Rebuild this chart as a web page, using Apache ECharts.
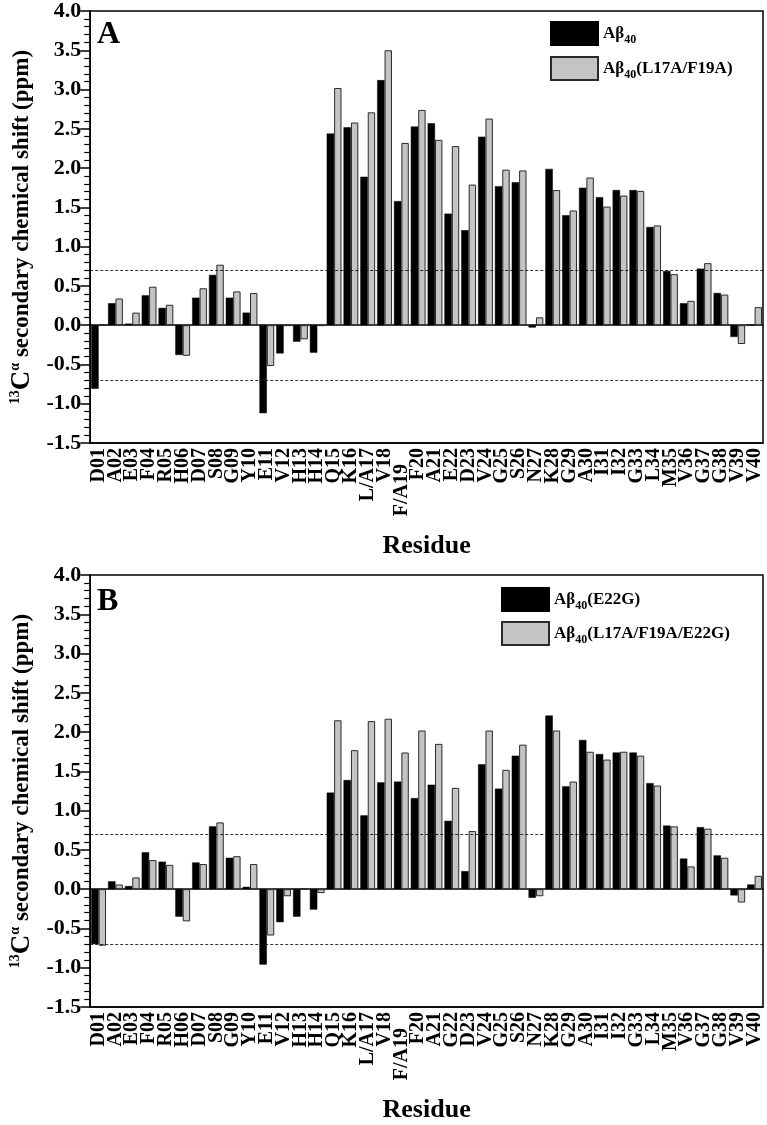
<!DOCTYPE html>
<html>
<head>
<meta charset="utf-8">
<script src="https://cdn.jsdelivr.net/npm/echarts@6/dist/echarts.min.js"></script>
<style>
html,body{margin:0;padding:0;background:#fff;}
#chart{width:767px;height:1125px;}
</style>
</head>
<body>
<div id="chart"></div>
<script>
const residuesA = ['D01','A02','E03','F04','R05','H06','D07','S08','G09','Y10','E11','V12','H13','H14','Q15','K16','L/A17','V18','F/A19','F20','A21','E22','D23','V24','G25','S26','N27','K28','G29','A30','I31','I32','G33','L34','M35','V36','G37','G38','V39','V40'];
const residuesB = ['D01','A02','E03','F04','R05','H06','D07','S08','G09','Y10','E11','V12','H13','H14','Q15','K16','L/A17','V18','F/A19','F20','A21','G22','D23','V24','G25','S26','N27','K28','G29','A30','I31','I32','G33','L34','M35','V36','G37','G38','V39','V40'];

const ab40 = [-0.81,0.28,0.02,0.38,0.22,-0.38,0.35,0.64,0.35,0.16,-1.12,-0.36,-0.21,-0.35,2.44,2.52,1.89,3.12,1.58,2.53,2.57,1.42,1.21,2.40,1.77,1.82,-0.03,1.99,1.40,1.75,1.63,1.72,1.72,1.25,0.69,0.28,0.72,0.41,-0.15,0];
const ab40LF = [0,0.34,0.16,0.49,0.26,-0.39,0.47,0.77,0.43,0.41,-0.52,-0.01,-0.18,-0.01,3.02,2.58,2.71,3.50,2.32,2.74,2.36,2.28,1.79,2.63,1.98,1.97,0.10,1.72,1.46,1.88,1.51,1.65,1.71,1.27,0.65,0.31,0.79,0.39,-0.24,0.23];
const e22g = [-0.70,0.10,0.04,0.47,0.35,-0.35,0.34,0.80,0.40,0.03,-0.96,-0.42,-0.35,-0.26,1.23,1.39,0.94,1.36,1.37,1.16,1.33,0.87,0.23,1.59,1.28,1.70,-0.11,2.21,1.31,1.90,1.72,1.74,1.74,1.35,0.81,0.39,0.79,0.43,-0.08,0.06];
const e22gLF = [-0.72,0.06,0.15,0.37,0.31,-0.41,0.32,0.85,0.42,0.32,-0.59,-0.09,0,-0.05,2.15,1.77,2.14,2.17,1.74,2.02,1.85,1.29,0.74,2.02,1.52,1.84,-0.09,2.02,1.37,1.75,1.65,1.75,1.70,1.32,0.80,0.29,0.77,0.40,-0.17,0.17];

const namesA = ['Aβ40','Aβ40(L17A/F19A)'];
const namesB = ['Aβ40(E22G)','Aβ40(L17A/F19A/E22G)'];
const thresholds = [0.7,-0.7];
const panelLabels = ['A','B'];

const FONT = '"Liberation Serif","Times New Roman",serif';
const chart = echarts.init(document.getElementById('chart'), null, {renderer:'canvas'});

const grids = [
  {left:82, top:8, right:4, height:435},
  {left:82, top:575, right:4, height:432}
];

function xAxes(gi, data){
  return [
    {
      type:'category', gridIndex:gi, data:data, position:'bottom',
      boundaryGap:true,
      axisLine:{onZero:false, lineStyle:{color:'#000', width:1.5}},
      axisTick:{alignWithLabel:true, length:8, lineStyle:{color:'#000', width:1.5}},
      axisLabel:{interval:0, rotate:90, color:'#000', fontFamily:FONT, fontWeight:'bold', fontSize:20, margin:5,
        formatter: v => v === 'F/A19' ? '{off|' + v + '}' : v,
        rich:{off:{fontFamily:FONT, fontWeight:'bold', fontSize:20, color:'#000', padding:[0,16,0,0]}}},
      name:'Residue', nameLocation:'middle', nameGap:90,
      nameTextStyle:{color:'#000', fontFamily:FONT, fontWeight:'bold', fontSize:26}
    },
    {
      type:'category', gridIndex:gi, data:data, position:'top',
      boundaryGap:true,
      axisLine:{onZero:true, lineStyle:{color:'#000', width:1.5}},
      axisTick:{alignWithLabel:true, inside:true, length:9, lineStyle:{color:'#000', width:1.5}},
      axisLabel:{show:false}
    }
  ];
}

function yAxis(gi){
  return {
    type:'value', gridIndex:gi, min:-1.5, max:4.0, interval:0.5,
    axisLine:{show:true, lineStyle:{color:'#000', width:1.5}},
    axisTick:{show:true, length:10, lineStyle:{color:'#000', width:1.5}},
    minorTick:{show:true, splitNumber:5, length:6, lineStyle:{color:'#000', width:1.2}},
    splitLine:{show:false},
    axisLabel:{color:'#000', fontFamily:FONT, fontWeight:'bold', fontSize:22, margin:9,
      formatter:v=>v.toFixed(1)},
    name:'{sup|13}{c|C}{sup|α}{m| secondary chemical shift (ppm)}',
    nameLocation:'middle', nameGap:48, nameRotate:90,
    nameTextStyle:{
      color:'#000', fontFamily:FONT, fontWeight:'bold',
      rich:{
        sup:{fontFamily:FONT, fontWeight:'bold', fontSize:14, lineHeight:14, verticalAlign:'top', color:'#000'},
        c:{fontFamily:FONT, fontWeight:'bold', fontSize:27, lineHeight:28, color:'#000'},
        m:{fontFamily:FONT, fontWeight:'bold', fontSize:23, lineHeight:28, color:'#000'}
      }
    }
  };
}

function barSeries(name, data, gi, black, withMark){
  const s = {
    name:name, type:'bar', xAxisIndex:gi*2, yAxisIndex:gi, data:data,
    barGap:'0%', barCategoryGap:'12%',
    itemStyle: black ? {color:'#000', borderColor:'#000', borderWidth:0.5}
                     : {color:'#c4c4c4', borderColor:'#2a2a2a', borderWidth:1},
    emphasis:{disabled:true}, animation:false
  };
  if (withMark){
    s.markLine = {
      silent:true, symbol:'none', label:{show:false},
      lineStyle:{color:'#000', type:[3,2], width:0.8},
      data: thresholds.map(t=>({yAxis:t}))
    };
  }
  return s;
}

const legendRich = {
  m:{fontFamily:FONT, fontWeight:'bold', fontSize:17, lineHeight:24, color:'#000'},
  s:{fontFamily:FONT, fontWeight:'bold', fontSize:12, lineHeight:12, verticalAlign:'bottom', color:'#000'}
};
function legendFmt(name){
  const rest = name.slice(4);
  return '{m|Aβ}{s|40}' + (rest ? '{m|' + rest + '}' : '');
}

const option = {
  animation:false,
  backgroundColor:'#fff',
  title: panelLabels.map((t,i)=>({
    text:t, left:92, top: i===0 ? 14 : 581,
    textStyle:{fontFamily:FONT, fontWeight:'bold', fontSize:32, color:'#000'}
  })),
  grid: grids.map(g=>Object.assign({show:true, borderColor:'#000', borderWidth:1.5, backgroundColor:'transparent'}, g)),
  legend:[
    {data:namesA, orient:'vertical', left:545, top:16, itemWidth:47, itemHeight:23, itemGap:10,
     icon:'rect', formatter:legendFmt, textStyle:{rich:legendRich}, selectedMode:false},
    {data:namesB, orient:'vertical', left:496, top:582, itemWidth:47, itemHeight:23, itemGap:9,
     icon:'rect', formatter:legendFmt, textStyle:{rich:legendRich}, selectedMode:false}
  ],
  xAxis: [...xAxes(0, residuesA), ...xAxes(1, residuesB)],
  yAxis: [yAxis(0), yAxis(1)],
  series:[
    barSeries(namesA[0], ab40, 0, true, true),
    barSeries(namesA[1], ab40LF, 0, false, false),
    barSeries(namesB[0], e22g, 1, true, true),
    barSeries(namesB[1], e22gLF, 1, false, false)
  ]
};
chart.setOption(option);
</script>
</body>
</html>
